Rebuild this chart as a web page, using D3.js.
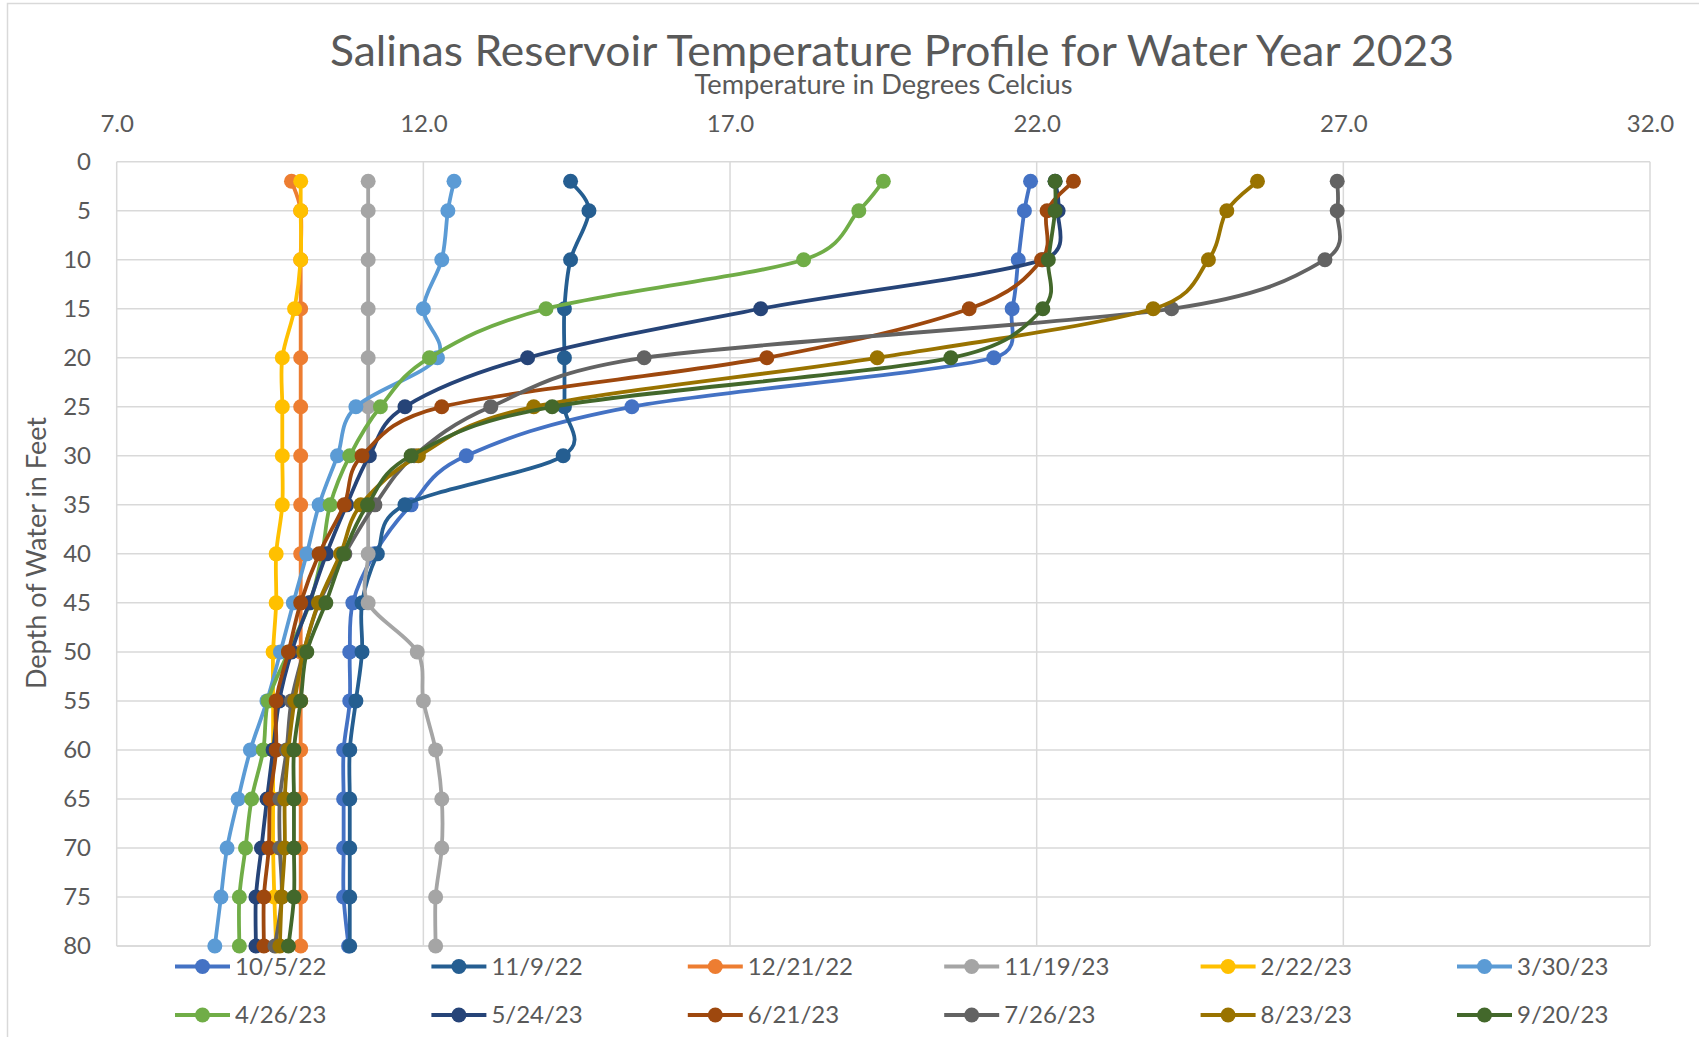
<!DOCTYPE html>
<html><head><meta charset="utf-8">
<script src="https://cdn.jsdelivr.net/npm/d3@7"></script>
<style>body{margin:0;background:#fff;} svg{display:block;}</style>
</head><body><svg id="chart" width="1699" height="1037"></svg>
<script>
// ---------------- DATA ----------------
const depths = [2,5,10,15,20,25,30,35,40,45,50,55,60,65,70,75,80];
const seriesNames = ["10/5/22","11/9/22","12/21/22","11/19/23","2/22/23","3/30/23","4/26/23","5/24/23","6/21/23","7/26/23","8/23/23","9/20/23"];
const seriesColors = ["#4472C4","#255E91","#ED7D31","#A5A5A5","#FFC000","#5B9BD5","#70AD47","#264478","#9E480E","#636363","#997300","#43682B"];
const temp_10_5_22  = [21.9,21.8,21.7,21.6,21.3,15.4,12.7,11.8,11.2,10.85,10.8,10.8,10.7,10.7,10.7,10.7,10.78];
const temp_11_9_22  = [14.4,14.7,14.4,14.3,14.3,14.3,14.28,11.7,11.25,11.0,11.0,10.9,10.8,10.8,10.8,10.8,10.8];
const temp_12_21_22 = [9.85,10.0,10.0,10.0,10.0,10.0,10.0,10.0,10.0,10.0,10.0,10.0,10.0,10.0,10.0,10.0,10.0];
const temp_11_19_23 = [11.1,11.1,11.1,11.1,11.1,11.1,11.1,11.1,11.1,11.1,11.9,12.0,12.2,12.3,12.3,12.2,12.2];
const temp_2_22_23  = [10.0,10.0,10.0,9.9,9.7,9.7,9.7,9.7,9.6,9.6,9.55,9.55,9.55,9.55,9.55,9.57,9.6];
const temp_3_30_23  = [12.5,12.4,12.3,12.0,12.23,10.9,10.6,10.3,10.1,9.88,9.67,9.45,9.18,8.98,8.8,8.7,8.6];
const temp_4_26_23  = [19.5,19.1,18.2,14.0,12.1,11.3,10.8,10.48,10.35,10.15,9.8,9.47,9.39,9.2,9.1,9.0,9.0];
const temp_5_24_23  = [22.3,22.35,22.1,17.5,13.7,11.7,11.12,10.75,10.42,10.14,9.85,9.65,9.55,9.45,9.36,9.27,9.27];
const temp_6_21_23  = [22.6,22.17,22.08,20.9,17.6,12.3,11.0,10.71,10.3,10.0,9.8,9.6,9.6,9.5,9.48,9.4,9.4];
const temp_7_26_23  = [26.9,26.9,26.7,24.2,15.6,13.1,11.85,11.21,10.72,10.3,10.05,9.85,9.77,9.66,9.66,9.69,9.58];
const temp_8_23_23  = [25.6,25.1,24.8,23.9,19.4,13.8,11.92,10.98,10.65,10.29,10.05,9.9,9.8,9.74,9.74,9.69,9.66];
const temp_9_20_23  = [22.3,22.3,22.19,22.1,20.6,14.1,11.8,11.09,10.7,10.41,10.1,10.0,9.89,9.89,9.89,9.89,9.8];
const seriesValues = [temp_10_5_22,temp_11_9_22,temp_12_21_22,temp_11_19_23,temp_2_22_23,temp_3_30_23,temp_4_26_23,temp_5_24_23,temp_6_21_23,temp_7_26_23,temp_8_23_23,temp_9_20_23];
const xTickValues = [7,12,17,22,27,32];
const yTickValues = [0,5,10,15,20,25,30,35,40,45,50,55,60,65,70,75,80];
const chartTitle = "Salinas Reservoir Temperature Profile for Water Year 2023";
const xTitle = "Temperature in Degrees Celcius";
const yTitle = "Depth of Water in Feet";

// ---------------- CHART ----------------
const FONT = "Lato, 'Open Sans', sans-serif";
const TXT = "#595959";
const svg = d3.select("#chart");
svg.append("rect").attr("x",7.5).attr("y",3.5).attr("width",1750).attr("height",1100)
  .attr("fill","#fff").attr("stroke","#D9D9D9").attr("stroke-width",1.5);

const x = d3.scaleLinear().domain([7,32]).range([116.7,1650]);
const y = d3.scaleLinear().domain([0,80]).range([161.7,946]);

const grid = svg.append("g");
grid.selectAll("line.h").data(yTickValues).join("line").attr("class","h")
  .attr("x1",x(7)).attr("x2",x(32)).attr("y1",d=>y(d)).attr("y2",d=>y(d))
  .attr("stroke",d=>d===80?"#CFCFCF":"#D9D9D9").attr("stroke-width",1.5);
grid.selectAll("line.v").data(xTickValues).join("line").attr("class","v")
  .attr("y1",y(0)).attr("y2",y(80)).attr("x1",d=>x(d)).attr("x2",d=>x(d))
  .attr("stroke","#D9D9D9").attr("stroke-width",1.5);

const xAxis = d3.axisTop(x).tickValues(xTickValues).tickFormat(d3.format(".1f")).tickSize(0).tickPadding(30);
svg.append("g").attr("transform",`translate(0,${y(0)})`).call(xAxis)
  .call(g=>g.select(".domain").remove())
  .selectAll("text").attr("font-family",FONT).attr("font-size",24).attr("fill",TXT);

const yAxis = d3.axisLeft(y).tickValues(yTickValues).tickFormat(d3.format("d")).tickSize(0).tickPadding(25.7);
svg.append("g").attr("transform",`translate(${x(7)},0)`).call(yAxis)
  .call(g=>g.select(".domain").remove())
  .selectAll("text").attr("font-family",FONT).attr("font-size",24).attr("fill",TXT);

// titles
svg.append("text").attr("x",892).attr("y",66).attr("text-anchor","middle")
  .attr("font-family",FONT).attr("font-size",43).attr("fill",TXT)
  .attr("textLength",1124).attr("lengthAdjust","spacingAndGlyphs").text(chartTitle);
svg.append("text").attr("x",883.5).attr("y",94).attr("text-anchor","middle")
  .attr("font-family",FONT).attr("font-size",26).attr("fill",TXT)
  .attr("textLength",378).attr("lengthAdjust","spacingAndGlyphs").text(xTitle);
svg.append("text").attr("transform","translate(46,553) rotate(-90)").attr("text-anchor","middle")
  .attr("font-family",FONT).attr("font-size",26).attr("fill",TXT)
  .attr("textLength",272).attr("lengthAdjust","spacingAndGlyphs").text(yTitle);

// Excel-like smoothing: Catmull-Rom Bezier with control arms capped relative to segment length
function ExcelSmooth(context){ this._context = context; }
ExcelSmooth.prototype = {
  areaStart(){}, areaEnd(){},
  lineStart(){ this._pts = []; },
  point(px,py){ this._pts.push([+px,+py]); },
  lineEnd(){
    const p = this._pts, n = p.length, c = this._context, K = 0.6;
    if (!n) return;
    c.moveTo(p[0][0], p[0][1]);
    for (let i = 0; i < n-1; i++) {
      const p0 = p[Math.max(i-1,0)], p1 = p[i], p2 = p[i+1], p3 = p[Math.min(i+2,n-1)];
      const seg = Math.hypot(p2[0]-p1[0], p2[1]-p1[1]);
      let a = [(p2[0]-p0[0])/6, (p2[1]-p0[1])/6];
      let b = [(p3[0]-p1[0])/6, (p3[1]-p1[1])/6];
      const la = Math.hypot(a[0],a[1]), lb = Math.hypot(b[0],b[1]), cap = K*seg;
      if (la > cap) a = a.map(v=>v*cap/la);
      if (lb > cap) b = b.map(v=>v*cap/lb);
      c.bezierCurveTo(p1[0]+a[0], p1[1]+a[1], p2[0]-b[0], p2[1]-b[1], p2[0], p2[1]);
    }
  }
};
const excelCurve = ctx => new ExcelSmooth(ctx);

// series
const line = d3.line().x(d=>x(d.t)).y(d=>y(d.d)).curve(excelCurve);
const plot = svg.append("g");
seriesNames.forEach((name,i)=>{
  const pts = depths.map((d,j)=>({d:d,t:seriesValues[i][j]}));
  const g = plot.append("g");
  g.append("path").datum(pts).attr("d",line).attr("fill","none")
    .attr("stroke",seriesColors[i]).attr("stroke-width",3.8).attr("stroke-linejoin","round").attr("stroke-linecap","round");
  g.selectAll("circle").data(pts).join("circle").attr("cx",d=>x(d.t)).attr("cy",d=>y(d.d))
    .attr("r",7.5).attr("fill",seriesColors[i]);
});

// legend
const legend = svg.append("g");
seriesNames.forEach((name,i)=>{
  const col = i%6, row = Math.floor(i/6);
  const lx = 175 + col*256.4, ly = row===0?966.5:1015;
  const g = legend.append("g").attr("transform",`translate(${lx},${ly})`);
  g.append("line").attr("x1",0).attr("x2",55).attr("y1",0).attr("y2",0)
    .attr("stroke",seriesColors[i]).attr("stroke-width",3.8);
  g.append("circle").attr("cx",27.5).attr("cy",0).attr("r",7.5).attr("fill",seriesColors[i]);
  g.append("text").attr("x",60).attr("y",0).attr("dy","0.35em")
    .attr("font-family",FONT).attr("font-size",24).attr("fill",TXT).text(name);
});
</script>
</body></html>
